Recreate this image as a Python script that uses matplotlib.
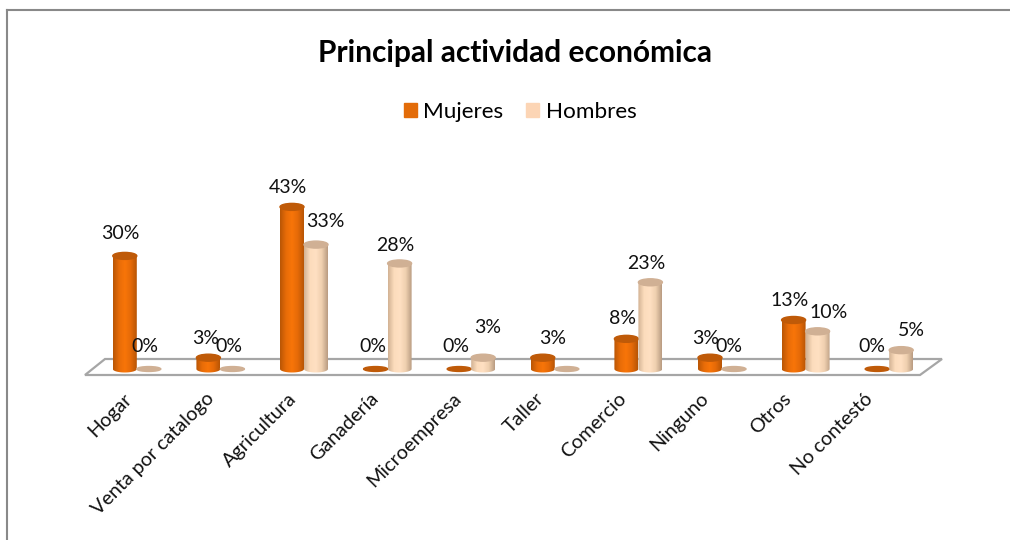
import numpy as np
import matplotlib
matplotlib.use('Agg')
from matplotlib import pyplot as plt
from matplotlib.colors import LinearSegmentedColormap
from matplotlib.lines import Line2D
from matplotlib.patches import Ellipse, Patch, Polygon
from matplotlib.transforms import ScaledTranslation

categories = ['Hogar', 'Venta por catalogo', 'Agricultura', 'Ganadería', 'Microempresa',
              'Taller', 'Comercio', 'Ninguno', 'Otros', 'No contestó']
mujeres = [30, 3, 43, 0, 0, 3, 8, 3, 13, 0]
hombres = [0, 0, 33, 28, 3, 0, 23, 0, 10, 5]
hombres_labels = ['0%', '0%', '33%', '28%', '3%', '', '23%', '0%', '10%', '5%']

# label offsets from the top of each bar, in pixels
mujeres_dx = [-4, -3, -4, -3, -3, 10, -4, -4, -4, -5]
mujeres_dy = [22, 19, 19, 22, 22, 19, 20, 19, 19, 22]
hombres_dx = [-4, -4, 9, -4, 4, 0, -4, -5, 11, 10]
hombres_dy = [22, 22, 23, 18, 30, 0, 19, 22, 19, 20]

W, H = 1010, 540
PX_X = 83.6  # pixels per category
PX_Y = 3.77  # pixels per percent
BAR = 24 / PX_X
CAP = 7 / PX_Y

plt.rcParams['font.family'] = ['Lato', 'DejaVu Sans']

naranja = LinearSegmentedColormap.from_list('naranja', ['#B95605', '#E86C08', '#F87508', '#E56A08', '#B85505'])
crema = LinearSegmentedColormap.from_list('crema', ['#D2B294', '#FCDCBC', '#FFE0C2', '#EFCFAF', '#B99C82'])


def px(x, y):
    return x / W, 1 - y / H


def cylinder(ax, x, v, cmap, top_color, z):
    if v == 0:
        ax.add_patch(Ellipse((x, 0), BAR, CAP * 0.7, color=top_color, zorder=z, clip_on=False))
        return
    t = np.linspace(0, np.pi, 40)
    xs = x - BAR / 2 * np.cos(t)
    ys = -CAP / 2 * np.sin(t)
    outline = np.column_stack([np.r_[xs, x + BAR / 2, x - BAR / 2], np.r_[ys, v, v]])
    im = ax.imshow(np.linspace(0, 1, 64)[None, :], extent=(x - BAR / 2, x + BAR / 2, -CAP, v),
                   cmap=cmap, aspect='auto', zorder=z)
    im.set_clip_box(ax.figure.bbox)
    im.set_clip_path(Polygon(outline, transform=ax.transData))
    ax.add_patch(Ellipse((x, v), BAR, CAP, color=top_color, zorder=z + 0.1, clip_on=False))


fig = plt.figure(figsize=(W / 100, H / 100), dpi=100)
ax = fig.add_axes([95 / W, 1 - 369 / H, 836 / W, 188.5 / H])
ax.patch.set_visible(False)

# chart border, only left and top show
for a, b in [((7, 540), (7, 10)), ((7, 10), (1010, 10))]:
    fig.add_artist(Line2D(*zip(px(*a), px(*b)), color='#898989', lw=1.5, transform=fig.transFigure))

floor = [px(105, 359), px(942, 359), px(920, 375), px(85, 375)]
ax.add_patch(Polygon(floor, closed=True, transform=fig.transFigure, facecolor='white',
                     edgecolor='#A6A6A6', lw=1.6, zorder=1, clip_on=False))

idx = np.arange(len(categories))
ax.set_xlim(-0.5, 9.5)
ax.set_ylim(0, 50)
for i in idx:
    xm = i - 12 / PX_X
    xh = i + 12 / PX_X
    cylinder(ax, xm, mujeres[i], naranja, '#BF5A08', 3)
    cylinder(ax, xh, hombres[i], crema, '#D0B094', 4)
    ax.annotate(f'{mujeres[i]}%', (xm, mujeres[i]), xytext=(mujeres_dx[i] * 0.72, mujeres_dy[i] * 0.72),
                textcoords='offset points', ha='center', va='center', fontsize=14, color='#111111',
                zorder=6, annotation_clip=False)
    if hombres_labels[i]:
        ax.annotate(hombres_labels[i], (xh, hombres[i]), xytext=(hombres_dx[i] * 0.72, hombres_dy[i] * 0.72),
                    textcoords='offset points', ha='center', va='center', fontsize=14, color='#111111',
                    zorder=6, annotation_clip=False)

ax.set_xlim(-0.5, 9.5)
ax.set_ylim(0, 50)
ax.set_yticks([])
ax.set_xticks(idx)
ax.set_xticklabels(categories, rotation=45, ha='right', rotation_mode='anchor', fontsize=14.2, color='#111111')
ax.tick_params(axis='x', length=0, pad=15)
# the labels drift left of their categories in the reference
for i, lab in enumerate(ax.get_xticklabels()):
    lab.set_transform(lab.get_transform() + ScaledTranslation((-14 - 1.2 * i) / 100, 0, fig.dpi_scale_trans))
for s in ax.spines.values():
    s.set_visible(False)

fig.text(515 / W, 1 - 53 / H, 'Principal actividad económica', ha='center', va='center',
         fontsize=21.5, fontweight='bold', color='black')

handles = [Patch(color='#E36C09', label='Mujeres'), Patch(color='#FCD5B5', label='Hombres')]
fig.legend(handles=handles, loc='center', bbox_to_anchor=(520 / W, 1 - 112 / H), ncol=2, frameon=False,
           fontsize=16.2, handlelength=0.6, handleheight=0.6, handletextpad=0.27, columnspacing=1.0)

fig.savefig('out.png', dpi=100)
